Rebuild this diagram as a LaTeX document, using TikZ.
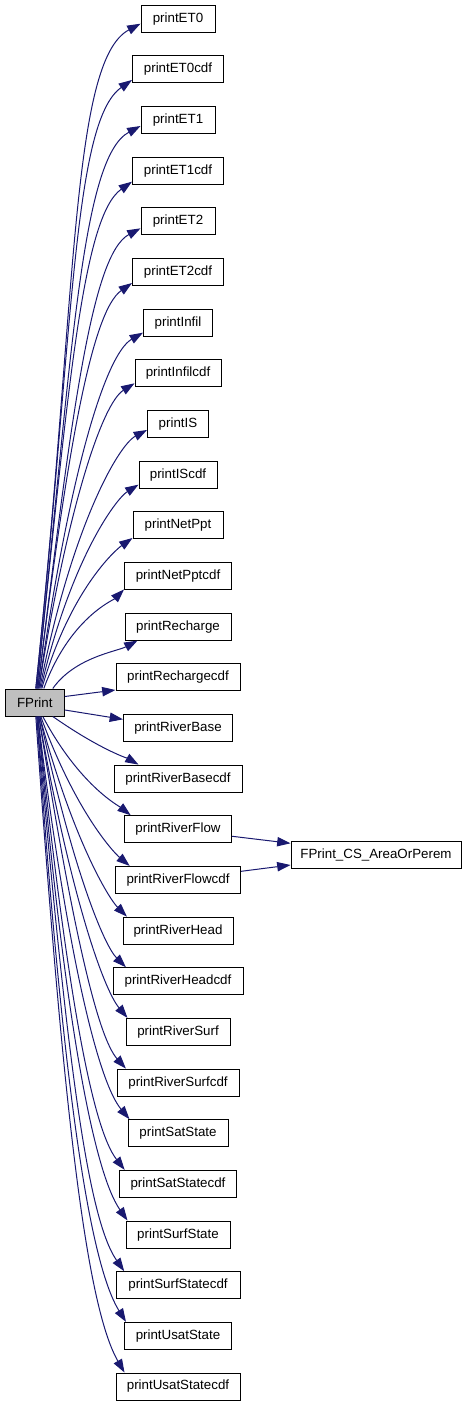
\documentclass[tikz,border=0pt]{standalone}
\usepackage{fontspec}
\setmainfont{Liberation Sans}
\usetikzlibrary{arrows.meta,positioning,calc}
\definecolor{cedge}{RGB}{25,25,112}
\definecolor{croot}{RGB}{191,191,191}
\tikzset{
  fn/.style={draw=black, line width=0.75pt, minimum height=20.25pt, inner sep=2pt,
    font=\fontsize{10}{12}\selectfont},
  call/.style={cedge, line width=0.75pt, -{Triangle[length=10pt,width=7pt]}},
}

\begin{document}
\begin{tikzpicture}[x=0.75pt,y=0.75pt]
  \useasboundingbox (0,0) rectangle (469,-1405);
  % caller
  \node[fn, fill=croot, minimum width=44.25pt] (fp) at (34.8,-702.5) {FPrint};
  % callees
  \foreach \n/\w [count=\i from 0] in {printET0/74, printET0cdf/91, printET1/74, printET1cdf/91,
      printET2/74, printET2cdf/91, printInfil/69, printInfilcdf/86, printIS/61, printIScdf/78,
      printNetPpt/90, printNetPptcdf/107, printRecharge/106, printRechargecdf/124,
      printRiverBase/109, printRiverBasecdf/128, printRiverFlow/107, printRiverFlowcdf/125,
      printRiverHead/110, printRiverHeadcdf/130, printRiverSurf/104, printRiverSurfcdf/122,
      printSatState/100, printSatStatecdf/117, printSurfState/104, printSurfStatecdf/124,
      printUsatState/107, printUsatStatecdf/124}
    \node[fn, minimum width=\w*0.75pt] (\n) at (178,{-18.7-50.66*\i}) {\n};
  \node[fn, minimum width=127.5pt] (cs) at (376,-855) {FPrint\_CS\_AreaOrPerem};

  % calls upwards
  \foreach \n/\sx/\dy/\o/\a in {printET0/1/-5/84/208, printET0cdf/1/-10.6/84/215,
      printET1/2/-6/84/208, printET1cdf/2/-11/84/215, printET2/3/-7/83/208,
      printET2cdf/3/-11/83/215, printInfil/4/-10/82/210, printInfilcdf/4/-10/81/212,
      printIS/5/-6/79/208, printIScdf/6/-10/77/212, printNetPpt/7/-12.7/74/215,
      printNetPptcdf/9/-13.5/70/225}
    \draw[call] ($(fp.north)+(\sx,0)$) to[out=\o, in=\a, out looseness=1.5, in looseness=0.3]
      ($(\n.west)+(0,\dy)$);
  \draw[call] ($(fp.north)+(18,0)$) to[out=55, in=208, in looseness=0.6] ($(printRecharge.south west)+(13,0)$);
  \draw[call] ($(fp.east)+(0,6)$) -- ($(printRechargecdf.west)+(0,-12.7)$);
  \draw[call] ($(fp.east)+(0,-7.5)$) -- ($(printRiverBase.west)+(0,8.6)$);
  % calls downwards
  \foreach \n/\sx/\ox/\o/\a in {printRiverBasecdf/18/25/-35/150, printRiverFlow/8/6.7/-62/142,
      printRiverFlowcdf/6/14.7/-70/140, printRiverHead/5/4.4/-75/135,
      printRiverHeadcdf/5/13.4/-78/135, printRiverSurf/4/2/-80/130,
      printRiverSurfcdf/4/9.4/-81/132, printSatState/3/2/-83/130,
      printSatStatecdf/3/5.7/-84/128, printSurfState/3/2/-85/125,
      printSurfStatecdf/2/8.7/-85/125, printUsatState/2/2/-86/122,
      printUsatStatecdf/1/9/-86/120}
    \draw[call] ($(fp.south)+(\sx,0)$) to[out=\o, in=\a, out looseness=1.5, in looseness=0.3]
      ($(\n.north west)+(\ox,0)$);
  % second level
  \draw[call] ($(printRiverFlow.east)+(0,-7)$) -- ($(cs.west)+(0,11.7)$);
  \draw[call] ($(printRiverFlowcdf.east)+(0,8.6)$) -- ($(cs.west)+(0,-10)$);
\end{tikzpicture}
\end{document}
